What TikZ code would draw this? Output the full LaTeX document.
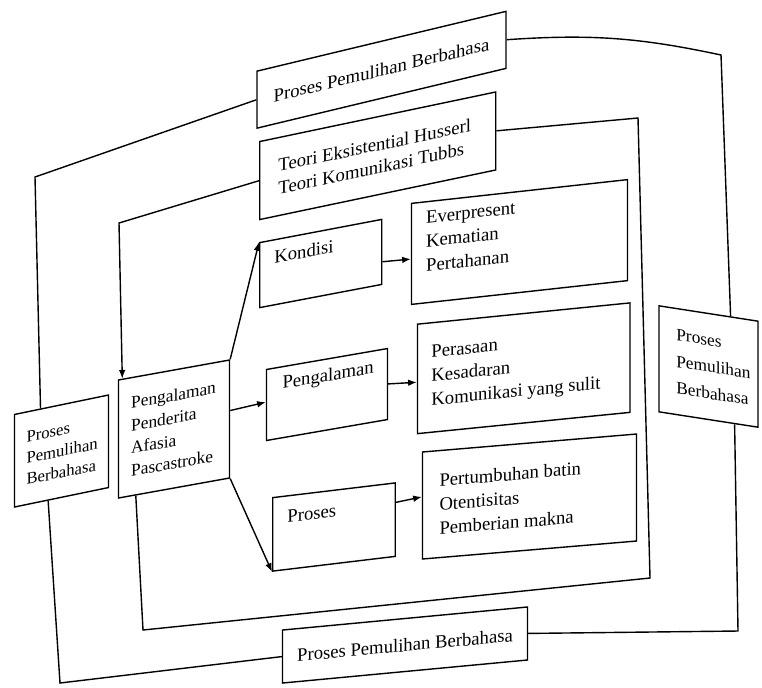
\documentclass[tikz,border=0pt]{standalone}
\usepackage{fontspec}
\setmainfont{Liberation Serif}
\usetikzlibrary{arrows.meta,calc}
\newcommand{\mytop}[5]{\parbox[c][#2][t]{#1}{\raggedright\leftskip=#4\relax\vspace*{#3}#5\par}}
\newcommand{\mycen}[4]{\parbox[c][#2][c]{#1}{\raggedright\leftskip=#3\relax #4\par}}
\begin{document}
\begin{tikzpicture}[x=0.75pt,y=-0.75pt,
  bx/.style={draw, line width=1.05pt, inner sep=0pt, font=\fontsize{14}{18}\selectfont},
  frame/.style={line width=1.05pt},
  arr/.style={line width=1.05pt,-{Latex[length=6.5pt,width=5pt]}}]
\useasboundingbox (0,0) rectangle (762,687);

% boxes
\node[bx,yslant=0.24] (topbox) at (381.5,69.75)
  {\parbox[c][42.75pt][c]{186.75pt}{\centering Proses Pemulihan Berbahasa}};
\node[bx,yslant=0.21,font=\fontsize{14}{17}\selectfont] (teori) at (377.75,155.75)
  {\mycen{177pt}{58.5pt}{14pt}{Teori Eksistential Husserl\\Teori Komunikasi Tubbs}};
\node[bx,yslant=0.19] (kondisi) at (320.75,263.5)
  {\mytop{91.5pt}{48.75pt}{8pt}{11pt}{Kondisi}};
\node[bx,yslant=0.11] (ever) at (519.5,242)
  {\mytop{162pt}{75.75pt}{7pt}{11pt}{Everpresent\\Kematian\\Pertahanan}};
\node[bx,yslant=0.18,font=\fontsize{13}{17}\selectfont] (pp) at (174,429)
  {\mycen{83.25pt}{88.5pt}{9.5pt}{Pengalaman\\Penderita\\Afasia\\Pascastroke}};
\node[bx,yslant=0.173] (pg) at (327,394.5)
  {\mytop{90.75pt}{53.25pt}{7pt}{12pt}{Pengalaman}};
\node[bx,yslant=0.10] (pera) at (523.75,368.25)
  {\mycen{159.4pt}{82.1pt}{10.5pt}{Perasaan\\Kesadaran\\Komunikasi yang sulit}};
\node[bx,yslant=0.12] (pr) at (334,527)
  {\mytop{91.9pt}{55.1pt}{11pt}{11pt}{Proses}};
\node[bx,yslant=0.084] (pert) at (529.5,496.5)
  {\mycen{160.5pt}{80.25pt}{12.75pt}{Pertumbuhan batin\\Otentisitas\\Pemberian makna}};
\node[bx,yslant=0.207,font=\fontsize{12.5}{16}\selectfont] (leftbox) at (61.5,451)
  {\mycen{70.5pt}{69.4pt}{9pt}{Proses\\Pemulihan\\Berbahasa}};
\node[bx,yslant=-0.155,font=\fontsize{13}{20}\selectfont] (rightbox) at (708.5,366.5)
  {\mycen{74.25pt}{79.5pt}{13pt}{Proses\\Pemulihan\\Berbahasa}};
\node[bx,yslant=0.094] (botbox) at (405,645)
  {\parbox[c][39.75pt][c]{183.75pt}{\centering Proses Pemulihan Berbahasa}};

% corners
\coordinate (otl) at (35,177);
\coordinate (obl) at (60,683);
\coordinate (obr) at (738,631);
\coordinate (otr) at (721,55);
\coordinate (mtr) at (638,118);
\coordinate (mbr) at (650,578);
\coordinate (mbl) at (143,630);
\coordinate (mtl) at (119,223);

% outer loop
\draw[frame] (topbox.west) -- (otl) -- ($(leftbox.north west)!0.28!(leftbox.north east)$);
\draw[frame] ($(leftbox.south west)!0.36!(leftbox.south east)$) -- (obl) -- (botbox.west);
\draw[frame] (botbox.east) -- (obr) -- ($(rightbox.south west)!0.76!(rightbox.south east)$);
\draw[frame] ($(rightbox.north west)!0.72!(rightbox.north east)$) -- (otr) to[bend right=8] (topbox.east);

% middle loop
\draw[frame] (teori.east) -- (mtr) -- (mbr) -- (mbl) -- ($(pp.south west)!0.16!(pp.south east)$);
\draw[arr] (teori.west) -- (mtl) -- ($(pp.north west)!0.04!(pp.north east)$);

% arrows
\draw[arr] (pp.north east) -- (kondisi.north west);
\draw[arr] ($(pp.north east)!0.43!(pp.south east)$) -- ($(pg.north west)!0.46!(pg.south west)$);
\draw[arr] (pp.south east) -- (pr.south west);
\draw[arr] ($(kondisi.north east)!0.65!(kondisi.south east)$) -- ($(ever.north west)!0.55!(ever.south west)$);
\draw[arr] (pg.east) -- ($(pera.north west)!0.53!(pera.south west)$);
\draw[arr] ($(pr.north east)!0.27!(pr.south east)$) -- ($(pert.north west)!0.42!(pert.south west)$);
\end{tikzpicture}
\end{document}
